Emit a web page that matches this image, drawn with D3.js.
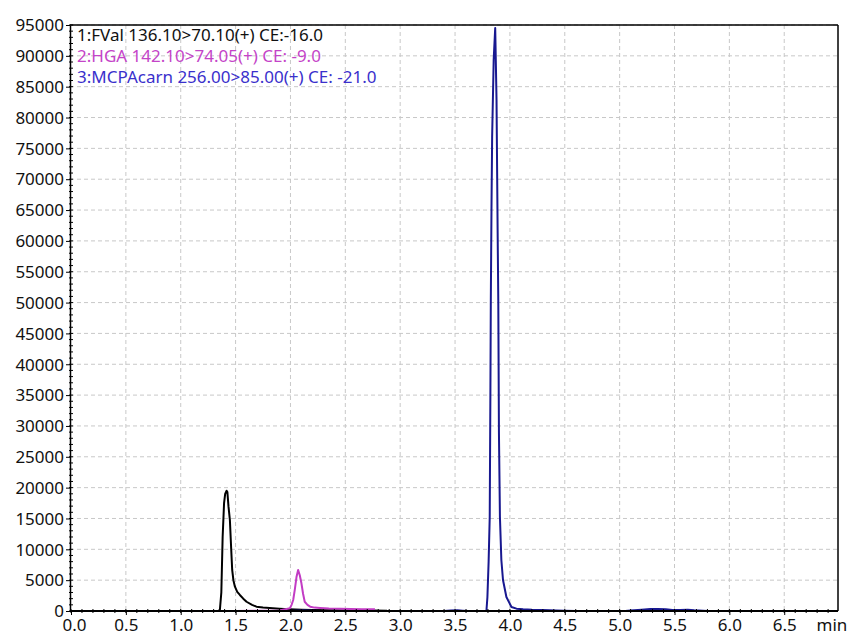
<!DOCTYPE html>
<html><head><meta charset="utf-8">
<script src="https://cdn.jsdelivr.net/npm/d3@7"></script>
<style>body{margin:0;background:#fff}svg{display:block}text{font-family:"Noto Sans",sans-serif}</style>
</head><body><svg id="c" width="861" height="637"></svg>
<script>
const legendLabels = ["1:FVal 136.10>70.10(+) CE:-16.0", "2:HGA 142.10>74.05(+) CE: -9.0", "3:MCPAcarn 256.00>85.00(+) CE: -21.0"];
const seriesColors = ["#000000", "#c23cc4", "#181890"];
const legendColors = ["#111111", "#c444c8", "#3a30cc"];
const xTicks = [0.0,0.5,1.0,1.5,2.0,2.5,3.0,3.5,4.0,4.5,5.0,5.5,6.0,6.5];
const yTicks = [0,5000,10000,15000,20000,25000,30000,35000,40000,45000,50000,55000,60000,65000,70000,75000,80000,85000,90000,95000];
const xUnit = "min";

const fval = [[1.34,0],[1.357,200],[1.37,3000],[1.382,12000],[1.395,17500],[1.405,19000],[1.418,19500],[1.425,19300],[1.435,17000],[1.448,14750],[1.46,10000],[1.469,6650],[1.48,5000],[1.494,3940],[1.515,3100],[1.539,2600],[1.57,2000],[1.6,1500],[1.65,1000],[1.69,700],[1.75,560],[1.81,490],[1.9,380],[1.99,290],[2.1,220],[2.2,180],[2.4,130],[2.6,100],[2.75,80],[2.88,60]];
const hga = [[1.36,0],[1.5,20],[1.7,40],[1.9,80],[1.995,440],[2.01,1000],[2.025,1780],[2.04,3500],[2.055,5500],[2.07,6650],[2.085,5800],[2.1,4490],[2.115,2800],[2.13,1500],[2.155,1000],[2.18,700],[2.22,550],[2.27,490],[2.35,420],[2.45,380],[2.55,330],[2.65,300],[2.77,280]];
const mcpa = [[2.0,0],[2.05,50],[2.12,70],[2.2,50],[2.26,0],[3.4,0],[3.46,90],[3.52,110],[3.57,60],[3.62,0],[3.786,0],[3.795,2270],[3.806,8000],[3.816,15240],[3.822,35000],[3.826,50400],[3.832,65000],[3.838,76850],[3.852,89300],[3.866,94500],[3.878,82850],[3.888,61770],[3.894,50420],[3.9,28860],[3.909,15240],[3.922,8270],[3.937,5030],[3.968,2270],[4.014,650],[4.06,380],[4.12,280],[4.2,200],[4.3,150],[4.42,100],[4.5,40],[4.6,0],[5.05,0],[5.1,80],[5.2,200],[5.28,320],[5.35,330],[5.42,300],[5.48,180],[5.55,150],[5.62,200],[5.68,120],[5.76,60],[5.8,0]];
const series = [fval, hga, mcpa];

const svg = d3.select("#c");
const L=70, R=838, T=25, B=611;
const x = d3.scaleLinear().domain([0,6.99]).range([L+1,R]);
const y = d3.scaleLinear().domain([0,95000]).range([B,T]);

// grid
const g = svg.append("g");
g.selectAll("line.vg").data(xTicks.filter(d=>d>0)).join("line")
  .attr("x1",d=>x(d)).attr("x2",d=>x(d)).attr("y1",T).attr("y2",B)
  .attr("stroke","#c8c8c8").attr("stroke-dasharray","4,3");
g.selectAll("line.hg").data(yTicks.filter(d=>d>0)).join("line")
  .attr("x1",L).attr("x2",R).attr("y1",d=>y(d)).attr("y2",d=>y(d))
  .attr("stroke","#c8c8c8").attr("stroke-dasharray","4,3");

// traces
const line = d3.line().x(d=>x(d[0])).y(d=>y(d[1]));
series.forEach((s,i)=>{
  svg.append("path").datum(s).attr("d",line).attr("fill","none")
    .attr("stroke",seriesColors[i]).attr("stroke-width",2).attr("stroke-linejoin","round");
});

// frame
svg.append("line").attr("x1",L).attr("x2",R).attr("y1",T).attr("y2",T).attr("stroke","#000").attr("stroke-width",1.5);
svg.append("line").attr("x1",R).attr("x2",R).attr("y1",T).attr("y2",B).attr("stroke","#000").attr("stroke-width",1.5);

// axes
const yAxis = d3.axisLeft(y).tickValues(yTicks).tickSize(4).tickSizeOuter(0).tickFormat(d3.format("d"));
const ya = svg.append("g").attr("transform",`translate(${L},0)`).call(yAxis);
ya.select(".domain").attr("stroke-width",1.5);
ya.selectAll("text").attr("font-size",17).attr("fill","#111").attr("x",-6).attr("dy","0.34em");
const yMinor = d3.range(0,95001,1000);
svg.append("g").selectAll("line").data(yMinor).join("line")
  .attr("x1",L-1).attr("x2",L+3).attr("y1",d=>y(d)).attr("y2",d=>y(d)).attr("stroke","#000");

const xAxis = d3.axisBottom(x).tickValues(xTicks).tickSize(4).tickSizeOuter(0).tickFormat(d3.format(".1f"));
const xa = svg.append("g").attr("transform",`translate(0,${B})`).call(xAxis);
xa.select(".domain").attr("stroke-width",2).attr("d",`M${L},0H${R}`);
xa.selectAll("text").attr("font-size",17).attr("fill","#111").attr("y",8).attr("dx",(d,i)=>i===0?3:0);
const xMinor = d3.range(0,70).map(i=>i/10);
svg.append("g").selectAll("line").data(xMinor).join("line")
  .attr("x1",d=>x(d)).attr("x2",d=>x(d)).attr("y1",B-2).attr("y2",B+2).attr("stroke","#000");
svg.append("text").attr("x",832).attr("y",631).attr("text-anchor","middle").attr("font-size",17).attr("fill","#111").text(xUnit);

// legend
svg.append("g").selectAll("text").data(legendLabels).join("text")
  .attr("x",77).attr("y",(d,i)=>41+i*21).attr("font-size",17).attr("fill",(d,i)=>legendColors[i]).text(d=>d);
</script></body></html>
